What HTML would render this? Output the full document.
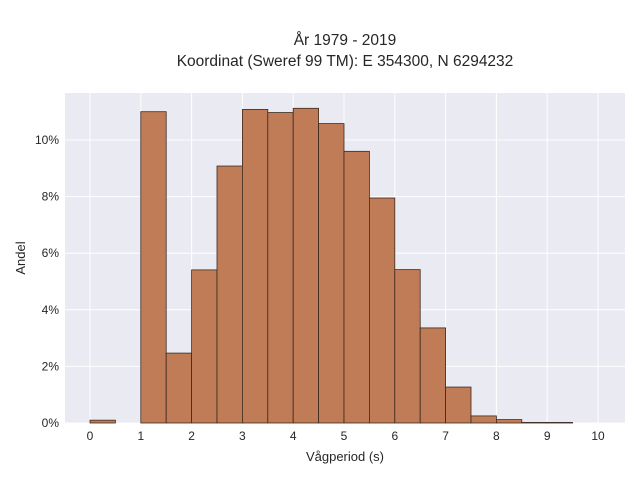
<!DOCTYPE html>
<html><head><meta charset="utf-8"><style>
body{margin:0;background:#fff;font-family:"Liberation Sans",sans-serif}
svg text{font-family:"Liberation Sans",sans-serif;fill:#262626}
</style></head><body>
<svg id="chart" width="640" height="480">
<text x="345" y="45" text-anchor="middle" font-size="15.5">År 1979 - 2019</text>
<text x="345" y="66" text-anchor="middle" font-size="15.5">Koordinat (Sweref 99 TM): E 354300, N 6294232</text>
<rect x="65" y="93" width="560" height="330" fill="#eaeaf2"/>
<g id="grid"></g><g id="bars"></g><g id="ticks"></g>
<text x="345" y="461" text-anchor="middle" font-size="13">Vågperiod (s)</text>
<text transform="translate(25,258) rotate(-90)" text-anchor="middle" font-size="13">Andel</text>
</svg>
<script>
const binStarts=[0,0.5,1,1.5,2,2.5,3,3.5,4,4.5,5,5.5,6,6.5,7,7.5,8,8.5,9,9.5];
const binValues=[0.1,0,11.0,2.47,5.41,9.08,11.08,10.97,11.12,10.58,9.6,7.95,5.42,3.36,1.27,0.25,0.12,0.02,0.02,0];
const binWidth=0.5;
const xTicks=[0,1,2,3,4,5,6,7,8,9,10];
const yTicks=[0,2,4,6,8,10];
const xs=v=>90+v*50.8, ys=v=>423-v*28.3;
const NS="http://www.w3.org/2000/svg";
const g=document.getElementById('grid'),b=document.getElementById('bars'),t=document.getElementById('ticks');
function mk(tag,a,p){const e=document.createElementNS(NS,tag);for(const k in a)e.setAttribute(k,a[k]);p.appendChild(e);return e;}
xTicks.forEach(v=>{
 const l=mk('line',{x1:xs(v),x2:xs(v),y1:93,y2:423,stroke:'#fff','stroke-width':1},g);
 
 
 const tx=mk('text',{x:xs(v),y:440,'text-anchor':'middle','font-size':12},t);tx.textContent=v;
 
 
});
yTicks.forEach(v=>{
 const l=mk('line',{x1:65,x2:625,y1:ys(v),y2:ys(v),stroke:'#fff','stroke-width':1},g);
 
 
 const tx=mk('text',{x:59,y:ys(v)+4,'text-anchor':'end','font-size':12},t);tx.textContent=v+'%';
 
 
});
binStarts.forEach((s,i)=>{
 const v=binValues[i]; if(v<=0) return;
 const r=mk('rect',{x:xs(s),y:ys(v),width:xs(s+binWidth)-xs(s),height:ys(0)-ys(v),fill:'#c07c57',stroke:'#3b2a1f','stroke-width':0.8},b);
 
 
});
</script>
</body></html>
